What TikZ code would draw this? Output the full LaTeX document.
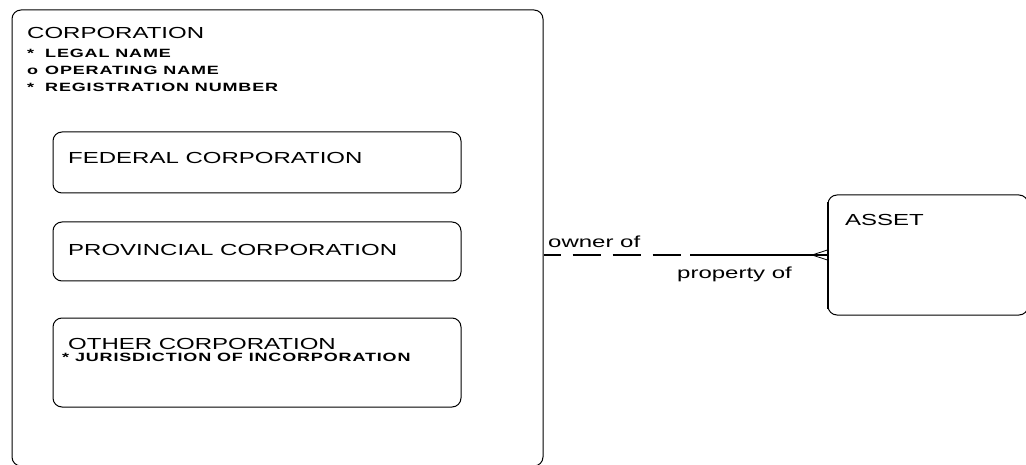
\documentclass[tikz,border=0pt]{standalone}
\usepackage{fontspec}
\newfontfamily\erfont[FakeStretch=1.5]{Liberation Sans}
\newfontfamily\erattrfont[FakeStretch=1.5,LetterSpace=7]{Liberation Sans Bold}
\begin{document}
\begin{tikzpicture}[x=1pt,y=-1pt,font=\erfont\fontsize{16}{19}\selectfont]
    \tikzset{box/.style={draw, line width=1pt, rounded corners=9pt, inner sep=0pt},
             lbl/.style={anchor=base west, inner sep=0pt},
             attr/.style={anchor=base west, inner sep=0pt, font=\erattrfont\fontsize{12}{17}\selectfont}}
    \useasboundingbox (0,0) rectangle (1026,465);
    % entity boxes
    \node[box, minimum width=531pt, minimum height=456pt] (corp) at (277.5,238) {};
    \node[box, minimum width=408pt, minimum height=61pt] (fed) at (257,162.5) {};
    \node[box, minimum width=408pt, minimum height=59pt] (prov) at (257,251.5) {};
    \node[box, minimum width=408pt, minimum height=89pt] (other) at (257,362.5) {};
    \node[box, minimum width=200pt, minimum height=120pt] (asset) at (928,255) {};
    % entity names and attributes
    \node[lbl] (corpname) at (27,39) {CORPORATION};
    \node[attr] (legal) at (27,58) {\makebox[18pt][l]{*}LEGAL NAME};
    \node[attr] (oper) at (27,75) {\makebox[18pt][l]{o}OPERATING NAME};
    \node[attr] (regno) at (27,92) {\makebox[18pt][l]{*}REGISTRATION NUMBER};
    \node[lbl] (fedname) at (68,164) {FEDERAL CORPORATION};
    \node[lbl] (provname) at (68,256) {PROVINCIAL CORPORATION};
    \node[lbl] (othername) at (68,349) {OTHER CORPORATION};
    \node[attr] (juris) at (62,361) {* JURISDICTION OF INCORPORATION};
    \node[lbl] (assetname) at (845,226) {ASSET};
    % relationship
    \coordinate (mid) at (690,255);
    \coordinate (foot) at (812,255);
    \draw[line width=1.2pt, dash pattern=on 28pt off 12pt, dash phase=11pt] (corp.east |- mid) -- (mid);
    \draw[line width=1.2pt] (mid) -- (asset.west |- mid);
    \draw[line width=0.8pt] (foot) -- ([yshift=5pt]asset.west |- foot);
    \draw[line width=0.8pt] (foot) -- ([yshift=-5pt]asset.west |- foot);
    \draw[line width=2pt] ([yshift=-8pt]asset.north west) -- ([yshift=7pt]asset.south west);
    \node[lbl] (owner) at (548,248) {owner of};
    \node[lbl] (prop) at (677,279) {property of};
\end{tikzpicture}
\end{document}
